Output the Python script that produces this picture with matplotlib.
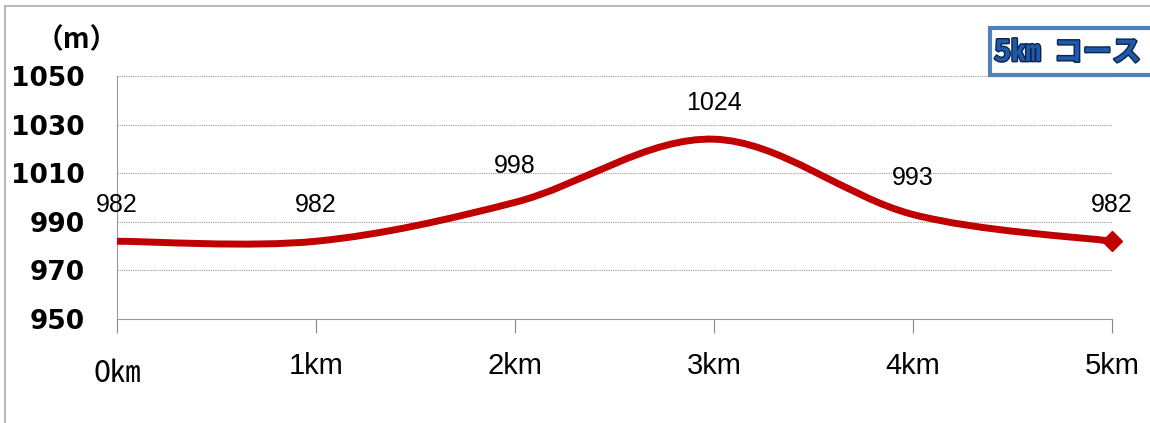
import numpy as np
import matplotlib.pyplot as plt
import matplotlib.patheffects as pe
from matplotlib.path import Path
from matplotlib.patches import PathPatch, Rectangle

dist = [0, 1, 2, 3, 4, 5]
elev = [982, 982, 998, 1024, 993, 982]
xlabels = ['0㎞', '1km', '2km', '3km', '4km', '5km']
yticks = [950, 970, 990, 1010, 1030, 1050]

fig = plt.figure(figsize=(11.5, 4.23), dpi=100)
ax = fig.add_axes([117 / 1150, 1 - 319 / 423, (1112 - 117) / 1150, (319 - 76) / 423])
ax.set_xlim(0, 5)
ax.set_ylim(950, 1050)

# smoothed line (Catmull-Rom style bezier like Excel)
pts = np.column_stack([dist, elev]).astype(float)
n = len(pts)
verts = [pts[0]]
codes = [Path.MOVETO]
for i in range(n - 1):
    p0 = pts[max(i - 1, 0)]
    p1 = pts[i]
    p2 = pts[i + 1]
    p3 = pts[min(i + 2, n - 1)]
    verts += [p1 + (p2 - p0) / 6, p2 - (p3 - p1) / 6, p2]
    codes += [Path.CURVE4] * 3
ax.add_patch(PathPatch(Path(verts, codes), fill=False, edgecolor='#C00000',
                       lw=5, capstyle='butt', joinstyle='round', zorder=3))
ax.plot(dist[-1], elev[-1], marker='D', color='#C00000', ms=10, zorder=4, clip_on=False)

for x, y in zip(dist, elev):
    ax.annotate(str(y), (x, y), xytext=(0, 26), textcoords='offset points',
                ha='center', va='center', fontsize=18, family='Liberation Sans')

ax.set_yticks(yticks)
ax.set_yticklabels([str(v) for v in yticks], fontsize=19, fontweight='bold')
ax.set_xticks(dist)
ax.set_xticklabels(xlabels)
for i, lab in enumerate(ax.get_xticklabels()):
    if i == 0:
        lab.set_family(['Noto Sans CJK JP', 'DejaVu Sans'])
        lab.set_fontsize(22)
        lab.set_x(-0.07)
        lab.set_y(-0.025)
    else:
        lab.set_family('Liberation Sans')
        lab.set_fontsize(21)
ax.tick_params(axis='y', length=0, pad=23)
ax.tick_params(axis='x', length=10, color='#888888', pad=14, direction='out')

for v in yticks[1:]:
    ax.axhline(v, color='#999999', lw=0.8, ls=(0, (1, 1)), zorder=1)
for s in ['top', 'right']:
    ax.spines[s].set_visible(False)
ax.spines['left'].set_color('#999999')
ax.spines['bottom'].set_color('#999999')
ax.spines['left'].set_bounds(950, 1050)

fig.text(77 / 1150, 1 - 40 / 423, '（m）', fontsize=20, fontweight='bold',
         family=['Noto Sans CJK JP', 'DejaVu Sans'], ha='center', va='center')

# outer frame lines
fig.add_artist(plt.Line2D([5 / 1150, 1], [1 - 6 / 423, 1 - 6 / 423], color='#BBBBBB', lw=1.5))
fig.add_artist(plt.Line2D([5 / 1150, 5 / 1150], [0, 1 - 6 / 423], color='#BBBBBB', lw=1.5))

# course box
fig.add_artist(Rectangle((990 / 1150, 1 - 75 / 423), 170 / 1150, 47 / 423,
                         transform=fig.transFigure, fill=True, facecolor='white',
                         edgecolor='#4F81BD', lw=3))
fig.text(994 / 1150, 1 - 52 / 423, '5㎞  コース', fontsize=21, fontweight='bold',
         color='#1F5AA8', family=['Noto Sans CJK JP', 'DejaVu Sans'], ha='left', va='center',
         path_effects=[pe.withStroke(linewidth=2, foreground='#0B2450')])

fig.savefig('out.png', dpi=100)
